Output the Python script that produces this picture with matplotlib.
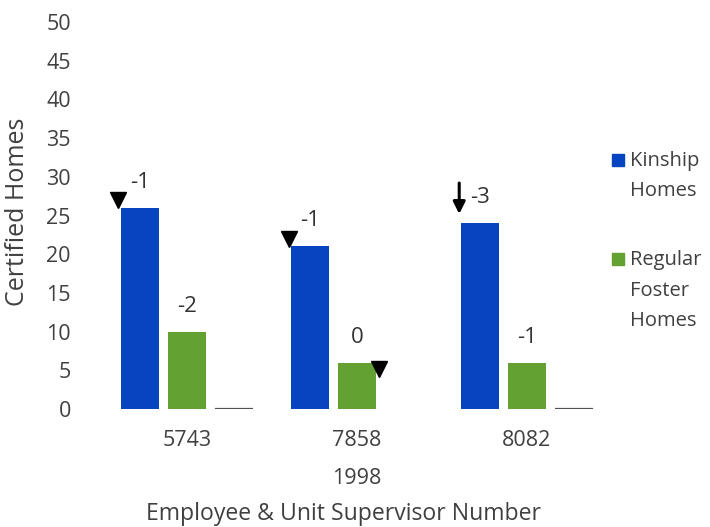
import numpy as np
import matplotlib
matplotlib.use("Agg")
import matplotlib.pyplot as plt
from matplotlib.patches import Rectangle

# data
supervisors = ["5743", "7858", "8082"]
kinship = [26, 21, 24]
regular = [10, 6, 6]
other = [0, np.nan, 0]            # thin dark baseline marks
kinship_change = ["-1", "-1", "-3"]
regular_change = ["-2", "0", "-1"]
yticks = [0, 5, 10, 15, 20, 25, 30, 35, 40, 45, 50]

blue = "#0645bf"
green = "#63a133"
txt = "#404040"

plt.rcParams["font.family"] = ["Open Sans", "DejaVu Sans"]
plt.rcParams["font.size"] = 15

fig = plt.figure(figsize=(7.10, 5.27), dpi=100)
ax = fig.add_axes([0.1437, 0.224, 0.718, 0.734])

x = np.arange(len(supervisors))
w = 0.224
step = 0.276

ax.bar(x - step, kinship, w, color=blue)
ax.bar(x, regular, w, color=green)
ax.bar(x + step, other, w, color="none", edgecolor="#505050", linewidth=1.6)

# change labels above bars
for i in range(len(x)):
    ax.text(x[i] - step, kinship[i] + 3.3, kinship_change[i], ha="center",
            va="center", color="#333333", fontsize=16)
    ax.text(x[i], regular[i] + 3.3, regular_change[i], ha="center",
            va="center", color="#333333", fontsize=16)

# down markers
ax.plot(x[0] - step - w / 2 - 0.02, kinship[0] + 1.0, marker="v", color="black",
        markersize=11, clip_on=False)
ax.plot(x[1] - step - w / 2 - 0.01, kinship[1] + 1.0, marker="v", color="black",
        markersize=11, clip_on=False)
ax.plot(x[1] + w / 2 + 0.02, regular[1] - 0.8, marker="v", color="black",
        markersize=11, clip_on=False)
ax.annotate("", xy=(x[2] - step - w / 2 - 0.01, kinship[2] + 1.2),
            xytext=(x[2] - step - w / 2 - 0.01, kinship[2] + 5.2),
            arrowprops=dict(arrowstyle="-|>", color="black", lw=2.2,
                            mutation_scale=18, shrinkA=0, shrinkB=0))

ax.set_xlim(-0.5, 2.5)
ax.set_ylim(0, 50)
ax.set_yticks(yticks)
ax.set_xticks(x)
ax.set_xticklabels(supervisors)
ax.tick_params(axis="y", length=0, pad=22.5, colors=txt, labelsize=15.5)
ax.tick_params(axis="x", length=0, pad=15, colors=txt, labelsize=15.5)
for s in ax.spines.values():
    s.set_visible(False)

fig.text(18 / 710, 1 - 212 / 527, "Certified Homes", rotation=90, ha="center",
         va="center", color=txt, fontsize=18)
fig.text(357 / 710, 1 - 479 / 527, "1998", ha="center", va="center",
         color=txt, fontsize=15.5)
fig.text(344 / 710, 1 - 514 / 527, "Employee & Unit Supervisor Number",
         ha="center", va="center", color=txt, fontsize=16.6)

# legend drawn by hand
sq = 12 / 710
fig.patches.append(Rectangle((612 / 710, 1 - 166 / 527), sq, 12 / 527,
                             color=blue, transform=fig.transFigure))
fig.patches.append(Rectangle((612 / 710, 1 - 265 / 527), sq, 12 / 527,
                             color=green, transform=fig.transFigure))
fig.text(630 / 710, 1 - 151 / 527, "Kinship\nHomes", ha="left", va="top",
         color=txt, fontsize=14.5, linespacing=1.65)
fig.text(630 / 710, 1 - 250 / 527, "Regular\nFoster\nHomes", ha="left",
         va="top", color=txt, fontsize=14.5, linespacing=1.7)

fig.savefig("out.png", dpi=100)
